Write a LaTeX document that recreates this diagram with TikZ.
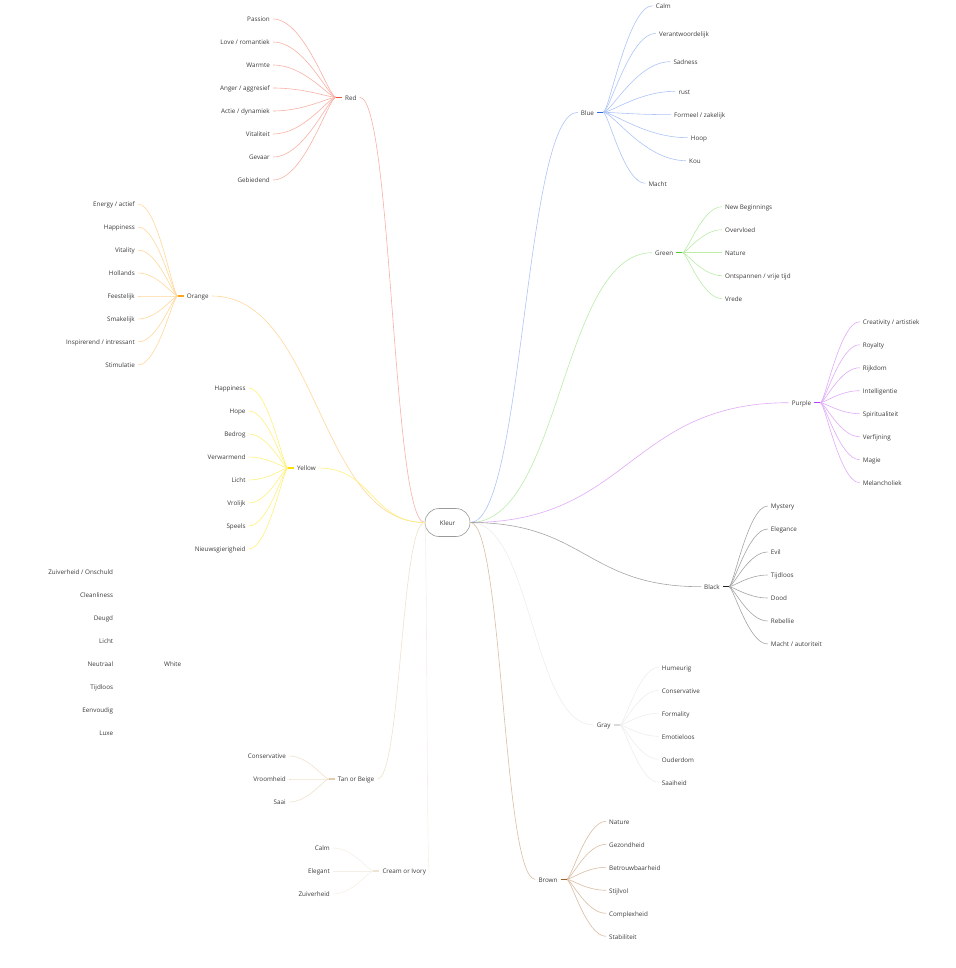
\documentclass[tikz,border=0pt]{standalone}
\usepackage{fontspec}
\setmainfont{Open Sans}
\usetikzlibrary{calc}
\definecolor{txtc}{HTML}{3A3A3A}
\definecolor{kbd}{HTML}{9A9A9A}
\definecolor{redl}{HTML}{F8B1A4}\definecolor{redd}{HTML}{E8553F}
\definecolor{orgl}{HTML}{FFD79A}\definecolor{orgd}{HTML}{FFA31A}
\definecolor{yell}{HTML}{FFF07A}\definecolor{yeld}{HTML}{FFDD00}
\definecolor{tanl}{HTML}{EFE1CC}\definecolor{tand}{HTML}{E2CCAA}
\definecolor{crml}{HTML}{F4F0E8}\definecolor{crmd}{HTML}{EDE5D4}
\definecolor{blul}{HTML}{ADC4F6}\definecolor{blud}{HTML}{3366E6}
\definecolor{grnl}{HTML}{BAECA8}\definecolor{grnd}{HTML}{4FC72B}
\definecolor{purl}{HTML}{E0AAF7}\definecolor{purd}{HTML}{B43CF0}
\definecolor{blkl}{HTML}{A4A4A4}\definecolor{blkd}{HTML}{222222}
\definecolor{gryl}{HTML}{EDEDED}\definecolor{gryd}{HTML}{DADADA}
\definecolor{brnl}{HTML}{DABDA3}\definecolor{brnd}{HTML}{A0622D}
\tikzset{
  txt/.style={inner xsep=3pt, inner ysep=0.5pt, text height=7pt, text depth=1.3pt,
    font=\fontsize{6.3}{7}\selectfont, text=txtc},
  lc/.style={txt, anchor=east},
  rc/.style={txt, anchor=west},
  lnk/.style={line width=0.6pt},
  stubline/.style={line width=1.4pt}
}
\newcommand\kidline[3]{\draw[lnk,#3] let \p1=(#1), \p2=(#2) in (\p1) .. controls ({\x1+0.5*(\x2-\x1)},{\y1}) and ({\x2+0.12*(\x1-\x2)},{\y2}) .. (\p2);}
\newcommand\mainline[3]{\draw[lnk,#3] let \p1=(#1), \p2=(#2) in (\p1) .. controls ({0.5*(\x1+\x2)},{\y1}) and ({0.5*(\x1+\x2)},{\y2}) .. (\p2);}
\newcommand\leftkids[5]{\foreach \t [count=\i] in {#4} {\pgfmathsetmacro\yy{#3+23*(\i-1)}\node[lc] (#1\i) at (#2,\yy) {\t}; \kidline{#1\i.east}{#1c}{#5}}}
\newcommand\rightkids[5]{\foreach \t [count=\i] in {#4} {\pgfmathsetmacro\yy{#3+23*(\i-1)}\node[rc] (#1\i) at (#2,\yy) {\t}; \kidline{#1\i.west}{#1c}{#5}}}
\begin{document}
\begin{tikzpicture}[x=1pt,y=-1pt]
\useasboundingbox (0,0) rectangle (955,968);
\node[txt, draw=kbd, line width=0.6pt, rounded corners=14pt, minimum width=45pt, minimum height=28pt] (kleur) at (447.5,522.5) {Kleur};

% White (lines are white)
\node[rc] (wht) at (161,664) {White};
\coordinate (whtc) at ($(wht.west)+(-6,0)$);
\leftkids{wht}{116.3}{572}{Zuiverheid / Onschuld, Cleanliness, Deugd, Licht, Neutraal, Tijdloos, Eenvoudig, Luxe}{white}
\mainline{wht.east}{kleur.west}{white}

% Cream
\node[rc] (crm) at (379.3,871) {Cream or Ivory};
\coordinate (crmc) at ($(crm.west)+(-6,0)$);
\leftkids{crm}{333}{848}{Calm, Elegant, Zuiverheid}{crml}
\draw[stubline,crmd] (crmc) -- (crm.west);
\mainline{crm.east}{kleur.west}{crml}

% Tan
\node[rc] (tan) at (334.7,779) {Tan or Beige};
\coordinate (tanc) at ($(tan.west)+(-6,0)$);
\leftkids{tan}{289}{756}{Conservative, Vroomheid, Saai}{tanl}
\draw[stubline,tand] (tanc) -- (tan.west);
\mainline{tan.east}{kleur.west}{tanl}

% Gray
\node[rc] (gry) at (593.7,725) {Gray};
\coordinate (gryc) at ($(gry.east)+(6,0)$);
\rightkids{gry}{658.7}{667.3}{Humeurig, Conservative, Formality, Emotieloos, Ouderdom, Saaiheid}{gryl}
\draw[stubline,gryd] (gry.east) -- (gryc);
\mainline{kleur.east}{gry.west}{gryl}

% Red
\node[rc] (red) at (342,97.3) {Red};
\coordinate (redc) at ($(red.west)+(-6,0)$);
\leftkids{red}{273}{19}{Passion, Love / romantiek, Warmte, Anger / aggresief, Actie / dynamiek, Vitaliteit, Gevaar, Gebiedend}{redl}
\draw[stubline,redd] (redc) -- (red.west);
\mainline{red.east}{kleur.west}{redl}

% Orange
\node[rc] (org) at (183.7,296) {Orange};
\coordinate (orgc) at ($(org.west)+(-6,0)$);
\leftkids{org}{138}{204}{Energy / actief, Happiness, Vitality, Hollands, Feestelijk, Smakelijk, Inspirerend / intressant, Stimulatie}{orgl}
\draw[stubline,orgd] (orgc) -- (org.west);
\mainline{org.east}{kleur.west}{orgl}

% Yellow
\node[rc] (yel) at (294,468) {Yellow};
\coordinate (yelc) at ($(yel.west)+(-6,0)$);
\leftkids{yel}{248.7}{388}{Happiness, Hope, Bedrog, Verwarmend, Licht, Vrolijk, Speels, Nieuwsgierigheid}{yell}
\draw[stubline,yeld] (yelc) -- (yel.west);
\mainline{yel.east}{kleur.west}{yell}

% Blue
\node[rc] (blu) at (577.7,112.3) {Blue};
\coordinate (bluc) at ($(blu.east)+(6,0)$);
\foreach \t/\xx/\yy [count=\i] in {{Calm}/652.7/5.7, {Verantwoordelijk}/656/33.3, {Sadness}/670.3/61.7, {rust}/675.3/91.3, {Formeel / zakelijk}/671/114.7, {Hoop}/687.7/137.7, {Kou}/686/160.7, {Macht}/645.3/183.3}
  {\node[rc] (blu\i) at (\xx,\yy) {\t}; \kidline{blu\i.west}{bluc}{blul}}
\draw[stubline,blud] (blu.east) -- (bluc);
\mainline{kleur.east}{blu.west}{blul}

% Green
\node[rc] (grn) at (652,252.7) {Green};
\coordinate (grnc) at ($(grn.east)+(6,0)$);
\rightkids{grn}{722}{206.7}{New Beginnings, Overvloed, Nature, Ontspannen / vrije tijd, Vrede}{grnl}
\draw[stubline,grnd] (grn.east) -- (grnc);
\mainline{kleur.east}{grn.west}{grnl}

% Purple
\node[rc] (pur) at (788.7,402.7) {Purple};
\coordinate (purc) at ($(pur.east)+(6,0)$);
\rightkids{pur}{859.7}{321.7}{Creativity / artistiek, Royalty, Rijkdom, Intelligentie, Spiritualiteit, Verfijning, Magie, Melancholiek}{purl}
\draw[stubline,purd] (pur.east) -- (purc);
\mainline{kleur.east}{pur.west}{purl}

% Black
\node[rc] (blk) at (701,586.7) {Black};
\coordinate (blkc) at ($(blk.east)+(6,0)$);
\rightkids{blk}{767.7}{506}{Mystery, Elegance, Evil, Tijdloos, Dood, Rebellie, Macht / autoriteit}{blkl}
\draw[stubline,blkd] (blk.east) -- (blkc);
\mainline{kleur.east}{blk.west}{blkl}

% Brown
\node[rc] (brn) at (535.3,879.3) {Brown};
\coordinate (brnc) at ($(brn.east)+(6,0)$);
\rightkids{brn}{606}{821.3}{Nature, Gezondheid, Betrouwbaarheid, Stijlvol, Complexheid, Stabiliteit}{brnl}
\draw[stubline,brnd] (brn.east) -- (brnc);
\mainline{kleur.east}{brn.west}{brnl}
\end{tikzpicture}
\end{document}
